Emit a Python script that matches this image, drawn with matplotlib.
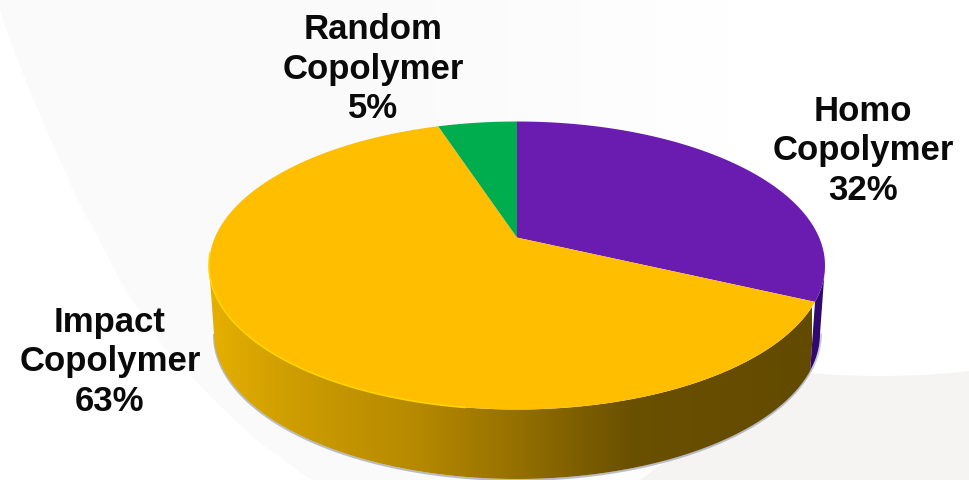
import numpy as np
import matplotlib
matplotlib.use('Agg')
import matplotlib.pyplot as plt
from matplotlib.patches import Polygon
from matplotlib.colors import LinearSegmentedColormap

## Data
categories = ['Homo\nCopolymer', 'Impact\nCopolymer', 'Random\nCopolymer']
shares = [32, 63, 5]
slice_colors = ['#6a1bb0', '#ffbe00', '#00ad4e']

## Pie geometry in pixels
cx, cy = 517.0, 266.5
a, b = 308.0, 144.0
cx2, cy2 = 517.0, 335.0
a2, b2 = 303.0, 145.0
tilt = 0.194  # moves the apex up, like the perspective in the 3D pie


def persp(theta_deg, r=1.0):
    # unit circle -> same circle with the centre moved up
    t = np.radians(theta_deg)
    x = r * np.cos(t)
    y = r * np.sin(t)
    d = 1.0 + tilt * y
    return x * np.sqrt(1.0 - tilt ** 2) / d, (y + tilt) / d


def top_pt(theta_deg, r=1.0):
    x, y = persp(theta_deg, r)
    return cx + a * x, cy - b * y


def bottom_pt(theta_deg):
    x, y = persp(theta_deg)
    return cx2 + a2 * x, cy2 - b2 * y


fig = plt.figure(figsize=(9.69, 4.81), dpi=100)
ax = fig.add_axes([0, 0, 1, 1])

wedges, _ = ax.pie(shares, startangle=90, counterclock=False, colors=slice_colors)
angles = [(w.theta1, w.theta2) for w in wedges]
for w in wedges:
    w.remove()

ax.set_aspect('auto')
ax.set_xlim(0, 969)
ax.set_ylim(481, 0)
ax.axis('off')

# Background: faint gray sweep on the left that fades out to the right
sweep = Polygon([[0, 10], [7, 33], [33, 100], [75, 195], [123, 287], [165, 350], [213, 400],
                 [255, 440], [300, 473], [312, 481], [969, 481], [969, 0], [0, 0]],
                closed=True, fc='none', ec='none', zorder=0)
ax.add_patch(sweep)
sweep_cmap = LinearSegmentedColormap.from_list('sweep', [(0.0, '#fafafa'), (0.45, '#fbfbfb'), (0.75, '#ffffff'), (1.0, '#ffffff')])
im_bg = ax.imshow(np.linspace(0, 1, 256).reshape(1, -1), cmap=sweep_cmap, extent=[0, 969, 481, 0],
                  aspect='auto', zorder=0)
im_bg.set_clip_path(sweep)

fl_x = np.linspace(790, 969, 40)
fl_y = 377 - 5 * ((fl_x - 880) / 90.0) ** 2
ax.add_patch(Polygon(np.r_[np.c_[fl_x, fl_y], [[969, 481], [640, 481]]], closed=True,
                     fc='#f5f4f2', ec='none', zorder=0))

# Side wall, visible part runs between the left and right extremes of the ellipse
left_end = 180.0 + np.degrees(np.arcsin(tilt))
right_end = 360.0 - np.degrees(np.arcsin(tilt))
gold_end = min(angles[0]) + 360.0

wall_cmap = LinearSegmentedColormap.from_list('wall', [
    (0.0, '#e6b000'), (0.12, '#d09f00'), (0.35, '#b58800'), (0.5, '#977200'),
    (0.7, '#6a5000'), (1.0, '#624a00')])
gradient = np.linspace(0, 1, 512).reshape(1, -1)

th = np.linspace(left_end, gold_end, 300)
top = np.array([top_pt(v) for v in th])
bot = np.array([bottom_pt(v) for v in th])
ax.plot(bot[:, 0], bot[:, 1] + 1, color='#8f93a8', lw=1.5, alpha=0.6, zorder=1)
patch = Polygon(np.r_[top, bot[::-1]], closed=True, fc='none', ec='none', zorder=2)
ax.add_patch(patch)
im = ax.imshow(gradient, cmap=wall_cmap, extent=[209, 812, 481, 260], aspect='auto', zorder=2)
im.set_clip_path(patch)
ax.set_xlim(0, 969)
ax.set_ylim(481, 0)

th = np.linspace(gold_end, right_end, 60)
top = np.array([top_pt(v) for v in th])
bot = np.array([bottom_pt(v) for v in th])
ax.plot(bot[:, 0] + 1, bot[:, 1], color='#8f93a8', lw=1.2, alpha=0.5, zorder=1)
ax.add_patch(Polygon(np.r_[top, bot[::-1]], closed=True, fc='#30096f', ec='none', zorder=2))

# Top face
for (t1, t2), col in zip(angles, slice_colors):
    th = np.linspace(t1, t2, 300)
    rim = np.array([top_pt(v) for v in th])
    apex = np.array([top_pt(0.0, 0.0)])
    ax.add_patch(Polygon(np.r_[apex, rim], closed=True, fc=col, ec='none', zorder=3))

# light rim on the gold slice
th = np.linspace(left_end - 5, 262, 100)
rim = np.array([top_pt(v) for v in th])
ax.plot(rim[:, 0], rim[:, 1], color='#ffd500', lw=1.2, zorder=4)

# Labels
label_pos = [(863, 151), (110, 362), (373, 69)]
for cat, val, (lx, ly) in zip(categories, shares, label_pos):
    ax.text(lx, ly, cat + '\n' + str(val) + '%', ha='center', va='center', color='#0a0a0a',
            fontsize=25, fontweight='bold', family='Liberation Sans', linespacing=1.26, zorder=5)

plt.savefig('out.png', dpi=100)
